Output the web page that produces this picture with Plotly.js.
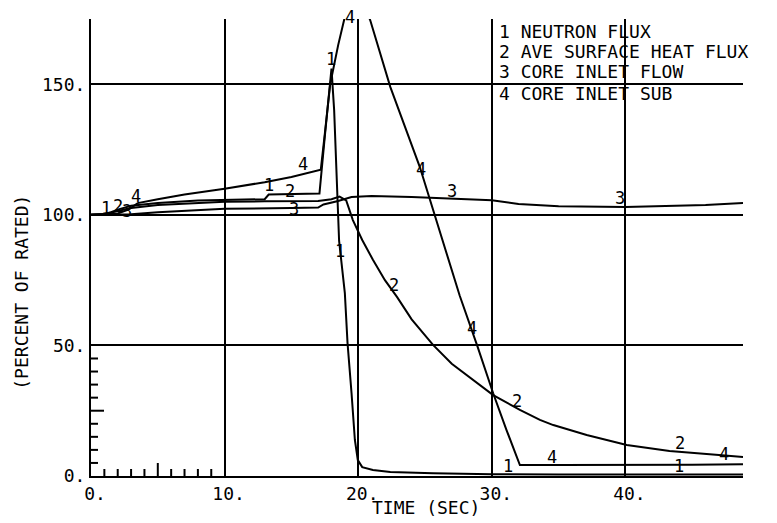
<!DOCTYPE html>
<html>
<head>
<meta charset="utf-8">
<script src="https://cdn.plot.ly/plotly-3.0.1.min.js"></script>
<style>html,body{margin:0;padding:0;background:#fff}#chart{width:777px;height:523px}</style>
</head>
<body>
<div id="chart"></div>
<script>
// ---- data (time in seconds, values in percent of rated) ----
const seriesNames = ["1 NEUTRON FLUX", "2 AVE SURFACE HEAT FLUX", "3 CORE INLET FLOW", "4 CORE INLET SUB"];

const t1 = [0, 1, 1.5, 2, 3, 5, 8, 10, 13, 13.3, 15, 17.1, 17.5, 17.9, 18.0, 18.2, 18.57, 19.0, 19.2, 19.5, 19.75, 19.97, 20.3, 21.1, 22.4, 25.6, 30, 35, 40, 45, 48.8];
const v1 = [100, 100.3, 101, 102, 103.5, 104.5, 105.5, 105.8, 106, 107.8, 108, 108.2, 130, 152, 156, 140, 90, 70, 51, 31.8, 13.8, 6.1, 3.4, 2.3, 1.5, 1.1, 0.7, 0.6, 0.6, 0.6, 0.6];

const t2 = [0, 1, 2, 3, 5, 10, 13, 15, 17, 18, 18.6, 19.1, 19.6, 20.3, 21.1, 22.0, 22.9, 24.0, 25.6, 27.0, 28.6, 30.1, 32.1, 33.6, 34.6, 37.1, 40.1, 43.3, 47, 48.8];
const v2 = [100, 100.2, 101.5, 102.6, 103.8, 105, 105.2, 105.3, 105.3, 106, 107, 105.5, 98, 90.4, 82.8, 75, 68.6, 60, 50.2, 43, 36.8, 31, 25.3, 21.5, 19.5, 15.7, 11.9, 9.6, 8, 7.3];

const t3 = [0, 3, 5, 8, 10, 15, 17, 17.4, 18.5, 19.5, 21, 24, 27, 30, 32, 35, 40, 43, 46, 48.8];
const v3 = [100, 100.2, 101, 101.8, 102.3, 102.6, 102.8, 104, 105.3, 106.8, 107.2, 106.8, 106.3, 105.6, 104.2, 103.3, 103, 103.3, 103.8, 104.5];

const t4 = [0, 2, 2.8, 3.5, 5, 7, 10, 13, 15, 16.5, 17.2, 17.5, 17.9, 18.5, 19.1, 19.8, 20.4, 20.9, 22.4, 24.6, 26.3, 27.6, 28.9, 30.1, 31.1, 32.1, 35, 40, 45, 48.8];
const v4 = [100, 100.5, 102, 104.5, 106, 107.8, 110, 112.5, 114.5, 116.5, 117.3, 131, 150, 165, 178, 185, 181, 174.5, 149, 118.5, 90, 69, 50, 31.7, 17.6, 4.2, 4.2, 4.2, 4.3, 4.5];

// curve number labels: [x position (s), pixel offset above curve]
const labels1 = [[1.1, 6], [13.3, 9], [18.0, 10], [18.65, 0], [31.2, 8], [44.0, 8]];
const labels2 = [[2.0, 5], [14.9, 10], [22.7, 8], [31.9, 7], [44.1, 9]];
const labels3 = [[2.7, 3], [15.2, -1], [27.0, 7], [39.6, 9]];
const labels4 = [[3.4, 8], [15.9, 10], [19.4, 2], [24.7, 2], [28.5, 2], [34.5, 8], [47.4, 10]];

const xTickVals = [0, 10, 20, 30, 40];
const xTickText = ["0.", "10.", "20.", "30.", "40."];
const yTickVals = [0, 50, 100, 150];
const yTickText = ["0.", "50.", "100.", "150."];
const xMinorTicks = [1, 2, 3, 4, 5, 6, 7, 8, 9];
const yMinorTicks = [5, 10, 15, 20, 25, 30, 35, 40, 45];

const X_RANGE = [0, 48.8];
const Y_RANGE = [0, 175];

// ---- helpers ----
function interp(t, v, x) {
  for (let i = 0; i < t.length - 1; i++) {
    if (x >= t[i] && x <= t[i + 1]) {
      const f = (x - t[i]) / (t[i + 1] - t[i]);
      return v[i] + f * (v[i + 1] - v[i]);
    }
  }
  return v[v.length - 1];
}

const FONT = "DejaVu Sans Mono, monospace";
const series = [[t1, v1, labels1, "1"], [t2, v2, labels2, "2"], [t3, v3, labels3, "3"], [t4, v4, labels4, "4"]];

const traces = series.map(([t, v], i) => ({
  x: t, y: v, type: "scatter", mode: "lines",
  line: {color: "#000", width: 2},
  name: seriesNames[i], hoverinfo: "skip"
}));

const annotations = [];
series.forEach(([t, v, labs, txt]) => {
  labs.forEach(([x, dy]) => {
    // keep the anchor inside the axis range (labels above the top sit on the frame edge)
    const y = Math.min(interp(t, v, x), Y_RANGE[1] - 0.01);
    annotations.push({
      x: x, y: y, xref: "x", yref: "y", text: txt, showarrow: false,
      yshift: dy, xanchor: "center", yanchor: "middle",
      font: {family: FONT, size: 17, color: "#000"}
    });
  });
});

// legend text block to the right of the 30 s line
const legendY = [0.9726, 0.929, 0.885, 0.838];
seriesNames.forEach((name, i) => {
  annotations.push({
    x: 0.622, y: legendY[i], xref: "paper", yref: "paper", text: name, showarrow: false,
    xanchor: "left", yanchor: "middle", font: {family: FONT, size: 18, color: "#000"}
  });
});

annotations.push({
  x: 0.514, y: -0.07, xref: "paper", yref: "paper", text: "TIME (SEC)", showarrow: false,
  xanchor: "center", yanchor: "middle", font: {family: FONT, size: 18, color: "#000"}
});
annotations.push({
  x: -0.106, y: 0.403, xref: "paper", yref: "paper", text: "(PERCENT OF RATED)", showarrow: false,
  textangle: -90, xanchor: "center", yanchor: "middle", font: {family: FONT, size: 18, color: "#000"}
});

const shapes = [];
xMinorTicks.forEach(x => {
  shapes.push({type: "line", xref: "x", yref: "y", ysizemode: "pixel", yanchor: 0,
    x0: x, x1: x, y0: 0, y1: (x === 5 ? 13 : 7), line: {color: "#000", width: 2}});
});
yMinorTicks.forEach(y => {
  shapes.push({type: "line", xref: "x", yref: "y", xsizemode: "pixel", xanchor: 0,
    x0: 0, x1: (y === 25 ? 13 : 7), y0: y, y1: y, line: {color: "#000", width: 2}});
});

const layout = {
  width: 777, height: 523,
  margin: {l: 91, r: 34, t: 19, b: 47, pad: 0},
  paper_bgcolor: "#fff", plot_bgcolor: "#fff",
  showlegend: false,
  xaxis: {
    range: X_RANGE, tickmode: "array", tickvals: xTickVals, ticktext: xTickText,
    showgrid: true, gridcolor: "#000", gridwidth: 2, zeroline: false,
    showline: true, linecolor: "#000", linewidth: 2, ticks: "",
    tickfont: {family: FONT, size: 18, color: "#000"}, ticklabelshift: 4, ticklabelstandoff: 0
  },
  yaxis: {
    range: Y_RANGE, tickmode: "array", tickvals: yTickVals, ticktext: yTickText,
    showgrid: true, gridcolor: "#000", gridwidth: 2, zeroline: false,
    showline: true, linecolor: "#000", linewidth: 2, ticks: "",
    tickfont: {family: FONT, size: 18, color: "#000"}, ticklabelstandoff: 0
  },
  annotations: annotations,
  shapes: shapes
};

Plotly.newPlot("chart", traces, layout, {staticPlot: true, displayModeBar: false});
</script>
</body>
</html>
